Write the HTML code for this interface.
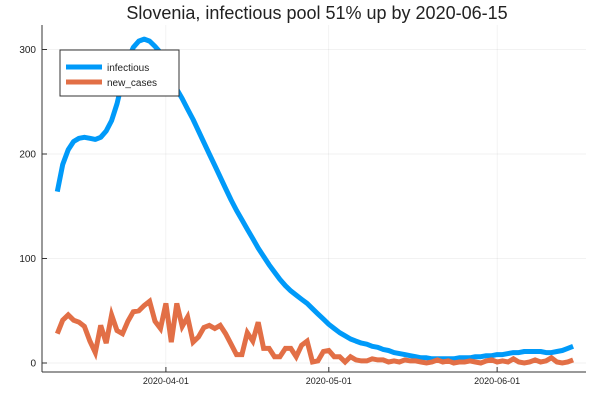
<!DOCTYPE html>
<html><head><meta charset="utf-8"><style>
body{margin:0;background:#fff;}
svg text{font-family:"Liberation Sans",sans-serif;}
</style></head><body>
<svg id="chart" width="600" height="400" xmlns="http://www.w3.org/2000/svg">
<text x="317" y="19" text-anchor="middle" font-size="18" fill="#222">Slovenia, infectious pool 51% up by 2020-06-15</text>
<g id="grid"></g>
<g id="axes"></g>
<g id="series"></g>
<g>
<rect x="60" y="50" width="119" height="46" fill="#fff" stroke="#333" stroke-width="1"/>
<line x1="66" y1="67" x2="102" y2="67" stroke="#009af9" stroke-width="5"/>
<text x="107" y="71" font-size="10" fill="#222">infectious</text>
<line x1="66" y1="82" x2="102" y2="82" stroke="#e26f46" stroke-width="5"/>
<text x="107" y="86" font-size="10" fill="#222">new_cases</text>
</g>
</svg>
<script>
const startDay = 0; // day 0 = 2020-03-12
const xTickLabels = ["2020-04-01","2020-05-01","2020-06-01"];
const xTickDays = [20,50,81];
const yTicks = [0,100,200,300];
const infectious = [164,190,204,212,215,216,215,214,216,222,232,248,270,290,302,308,310,308,303,297,287,275,262,253,243,233,222,211,200,189,178,167,156,146,137,128,119,110,102,94,87,80,74,69,65,61,57,52,47,42,37,33,29,26,23,21,19,18,16,15,13,12,10,9,8,7,6,5,5,4,4,4,4,4,5,5,5,6,6,7,7,8,8,9,10,10,11,11,11,11,10,10,11,12,14,16];
const newCases = [28,41,46,41,39,35,21,10,36,19,46,31,28,40,49,50,55,59,40,33,57,20,57,35,44,20,25,34,36,33,36,28,18,8,8,29,21,39,14,14,6,6,14,14,6,17,21,1,2,11,12,6,6,1,6,3,2,2,4,3,3,1,2,1,3,2,2,1,0,1,3,1,2,0,1,1,2,1,0,2,3,1,2,1,4,1,0,1,3,1,2,5,1,0,1,3];
const NS="http://www.w3.org/2000/svg";
const X0=57.3, DX=5.43, Y0=363, DY=1.045;
function xs(d){return X0+(d-startDay)*DX;}
function ys(v){return Y0-v*DY;}
function mk(tag,attrs,parent){const e=document.createElementNS(NS,tag);for(const k in attrs)e.setAttribute(k,attrs[k]);parent.appendChild(e);return e;}
const grid=document.getElementById('grid'),axes=document.getElementById('axes'),series=document.getElementById('series');
xTickDays.forEach((d,i)=>{
  const gl=mk('line',{x1:xs(d),x2:xs(d),y1:25,y2:372,stroke:'#000','stroke-opacity':0.1,'stroke-width':0.5},grid);
  
  
  mk('line',{x1:xs(d),x2:xs(d),y1:372,y2:367,stroke:'#333','stroke-width':1},axes);
  const t=mk('text',{x:xs(d),y:384,'text-anchor':'middle','font-size':9,fill:'#222'},axes);
  t.textContent=xTickLabels[i];
  
  
});
yTicks.forEach(v=>{
  const gl=mk('line',{x1:42,x2:586,y1:ys(v),y2:ys(v),stroke:'#000','stroke-opacity':0.1,'stroke-width':0.5},grid);
  
  
  mk('line',{x1:42,x2:47,y1:ys(v),y2:ys(v),stroke:'#333','stroke-width':1},axes);
  const t=mk('text',{x:36,y:ys(v)+3.5,'text-anchor':'end','font-size':10,fill:'#222'},axes);
  t.textContent=String(v);
  
  
});
const xa=mk('line',{x1:42,x2:586,y1:372,y2:372,stroke:'#333','stroke-width':1},axes);


const ya=mk('line',{x1:42,x2:42,y1:25,y2:372,stroke:'#333','stroke-width':1},axes);


function path(arr,color){return arr.map((v,i)=>(i?'L':'M')+xs(startDay+i).toFixed(1)+','+ys(v).toFixed(1)).join('');}
const p1=mk('path',{d:path(infectious),fill:'none',stroke:'#009af9','stroke-width':5,'stroke-linejoin':'round'},series);


const p2=mk('path',{d:path(newCases),fill:'none',stroke:'#e26f46','stroke-width':5,'stroke-linejoin':'miter'},series);


</script>
</body></html>
